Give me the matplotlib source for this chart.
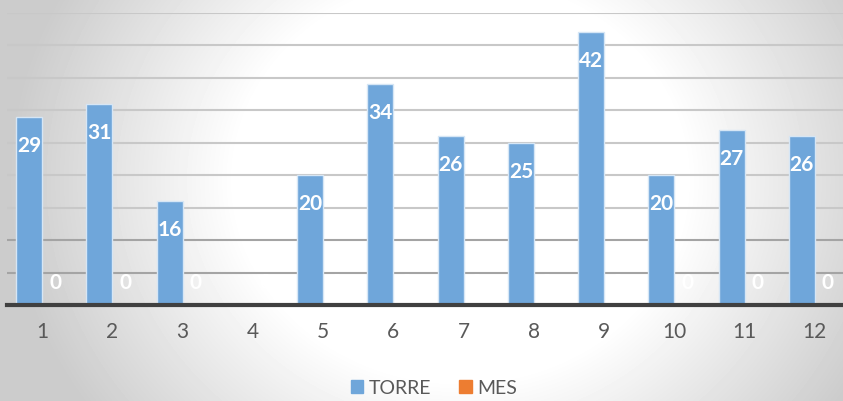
import numpy as np
import matplotlib.pyplot as plt
from matplotlib.patches import Patch

months = ['1', '2', '3', '4', '5', '6', '7', '8', '9', '10', '11', '12']
torre = [29, 31, 16, np.nan, 20, 34, 26, 25, 42, 20, 27, 26]
mes = [0, 0, 0, 0, 0, 0, 0, 0, 0, 0, 0, 0]

blue = '#6FA6DA'
orange = '#ED7D31'

plt.rcParams['font.family'] = ['Lato', 'DejaVu Sans']

fig = plt.figure(figsize=(8.43, 4.01), dpi=100)

# radial grey background, white in the middle
bg = fig.add_axes([0, 0, 1, 1], zorder=-10)
yy, xx = np.mgrid[0:401, 0:843]
r = np.sqrt(((xx - 460) / 450.0) ** 2 + ((yy - 180) / 400.0) ** 2)
shade = np.clip(1.0 - 0.4 * np.clip(r - 0.5, 0, None), 0.8, 1.0)
bg.imshow(shade, cmap='gray', vmin=0, vmax=1, aspect='auto', extent=[0, 843, 401, 0])
bg.axis('off')

ax = fig.add_axes([7 / 843, 96 / 401, 843 / 843, 292.5 / 401])
ax.patch.set_alpha(0)

x = np.arange(len(months))
w = 0.37
ax.bar(x - w / 2, torre, w, color=blue, edgecolor='#d6e6f5', linewidth=1, zorder=3)
ax.bar(x + w / 2, mes, w, color=orange, zorder=3)

for xi, v in zip(x - w / 2, torre):
    if np.isnan(v):
        continue
    ax.annotate(str(int(v)), (xi, v), xytext=(0, -21), textcoords='offset points',
                ha='center', va='center', color='white', fontsize=15, fontweight='bold', zorder=4)
for xi, v in zip(x + w / 2, mes):
    ax.annotate(str(int(v)), (xi, v), xytext=(0, 16), textcoords='offset points',
                ha='center', va='center', color='white', fontsize=15, fontweight='bold', zorder=4)

ax.set_ylim(0, 45)
ax.set_xlim(-0.5, 11.5)
for gv in range(5, 46, 5):
    ax.axhline(gv, color='#a4a4a4' if gv <= 10 else '#c8c8c8', linewidth=1.5, zorder=1)
ax.set_yticks([])
ax.set_xticks(x)
ax.set_xticklabels(months, fontsize=15, color='#595959')
ax.tick_params(axis='x', length=0, pad=12)
for s in ['top', 'right', 'left']:
    ax.spines[s].set_visible(False)
ax.spines['bottom'].set_color('#404040')
ax.spines['bottom'].set_linewidth(3)
ax.spines['bottom'].set_zorder(5)

handles = [Patch(color=blue, label='TORRE'), Patch(color=orange, label='MES')]
fig.legend(handles=handles, loc='center', bbox_to_anchor=(434 / 843, 1 - 388 / 401), ncol=2,
           frameon=False, fontsize=14, handlelength=0.65, handleheight=0.65,
           handletextpad=0.3, columnspacing=1.4, labelcolor='#595959')

fig.savefig('out.png', dpi=100)
